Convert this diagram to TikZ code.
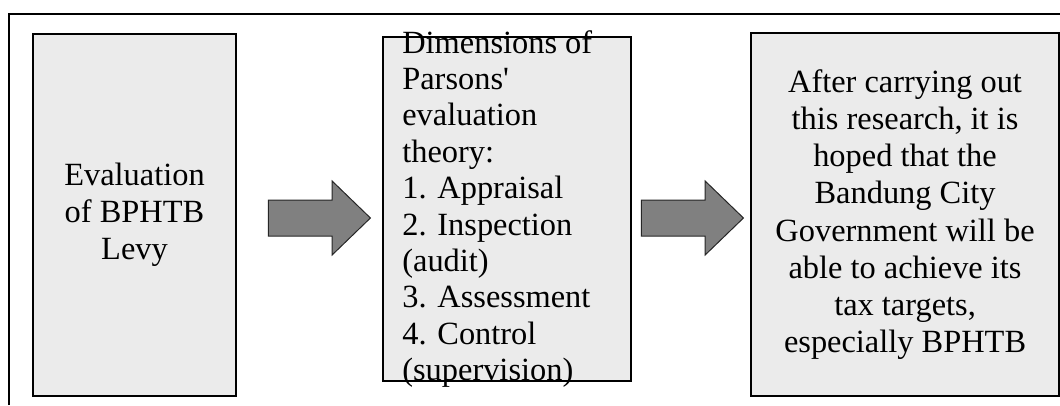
\documentclass[tikz,border=0pt]{standalone}
\usepackage{fontspec}
\setmainfont{Liberation Serif}
\usetikzlibrary{shapes.arrows, positioning}

\begin{document}
\begin{tikzpicture}[
    box/.style={draw, line width=1.8pt, fill=black!8, align=center, inner sep=0pt,
                font=\fontsize{32.4}{37.2}\selectfont},
    bigarrow/.style={single arrow, draw=black!85, line width=1pt, fill=black!50,
                minimum height=102pt, minimum width=73pt, inner xsep=0pt, inner ysep=17.5pt,
                single arrow head extend=19pt, single arrow tip angle=88},
    node distance=10pt
]
\useasboundingbox (0,0) rectangle (1060pt,405pt);

% Frame
\draw[line width=1.4pt] (9pt,0pt) |- (1060pt,391pt);

% Evaluation box
\node[box, minimum width=203pt, minimum height=362pt] (eval) at (134.5pt,190pt)
    {Evaluation\\of BPHTB\\Levy};

% Arrow to the dimensions
\node[bigarrow, right=31pt of eval, yshift=-3pt] (arr1) {};

% Dimensions box (the text runs over its border)
\node[box, minimum width=248pt, minimum height=344pt, right=11pt of arr1, yshift=9pt] (dims) {};
\node[anchor=west, align=left, inner sep=0pt, font=\fontsize{32.4}{36.4}\selectfont]
    (dimstext) at ([xshift=20pt]dims.west)
    {Dimensions of\\Parsons\textquotesingle\\evaluation\\theory:\\1. Appraisal\\2. Inspection\\(audit)\\3. Assessment\\4. Control\\(supervision)};

% Arrow to the hoped result
\node[bigarrow, right=9pt of dims, yshift=-9pt] (arr2) {};

% Result box
\node[box, minimum width=308pt, minimum height=363pt, right=6pt of arr2, yshift=3.5pt] (hope)
    {After carrying out\\this research, it is\\hoped that the\\Bandung City\\Government will be\\able to achieve its\\tax targets,\\especially BPHTB};

\end{tikzpicture}
\end{document}
